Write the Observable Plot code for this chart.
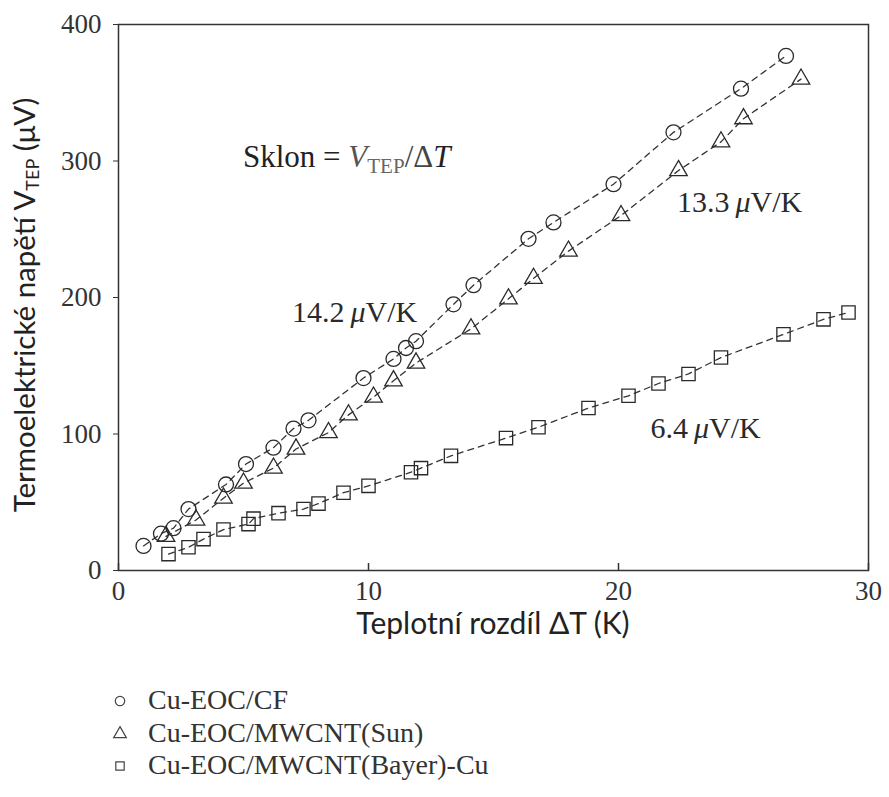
<!DOCTYPE html>
<html>
<head>
<meta charset="utf-8">
<script src="https://cdn.jsdelivr.net/npm/d3@7"></script>
<script src="https://cdn.jsdelivr.net/npm/@observablehq/plot@0.6"></script>
<style>
  body { margin: 0; background: #fff; }
  #legend { font-family: "Liberation Serif", "Times New Roman", serif; font-size: 28px; color: #333; margin-left: 110px; margin-top: 34px; }
  .row { display: flex; align-items: center; height: 32.5px; }
  .row svg { margin-right: 18px; }
</style>
</head>
<body>
<div id="chart"></div>
<div id="legend"></div>
<script>
// ---- data ----
const seriesNames = ["Cu-EOC/CF", "Cu-EOC/MWCNT(Sun)", "Cu-EOC/MWCNT(Bayer)-Cu"];
const seriesSymbols = ["circle", "triangle", "square"];

const cfX = [1.0, 1.7, 2.2, 2.8, 4.3, 5.1, 6.2, 7.0, 7.6, 9.8, 11.0, 11.5, 11.9, 13.4, 14.2, 16.4, 17.4, 19.8, 22.2, 24.9, 26.7];
const cfY = [18, 27, 31, 45, 63, 78, 90, 104, 110, 141, 155, 163, 168, 195, 209, 243, 255, 283, 321, 353, 377];

const sunX = [1.9, 3.1, 4.2, 5.0, 6.2, 7.1, 8.4, 9.2, 10.2, 11.0, 11.9, 14.1, 15.6, 16.6, 18.0, 20.1, 22.4, 24.1, 25.0, 27.3];
const sunY = [25, 37, 53, 64, 75, 89, 101, 114, 127, 139, 152, 177, 199, 214, 234, 260, 293, 314, 331, 360];

const bayX = [2.0, 2.8, 3.4, 4.2, 5.2, 5.4, 6.4, 7.4, 8.0, 9.0, 10.0, 11.7, 12.1, 13.3, 15.5, 16.8, 18.8, 20.4, 21.6, 22.8, 24.1, 26.6, 28.2, 29.2];
const bayY = [12, 17, 23, 30, 34, 38, 42, 45, 49, 57, 62, 72, 75, 84, 97, 105, 119, 128, 137, 144, 156, 173, 184, 189];

const xTicks = [0, 10, 20, 30];
const yTicks = [0, 100, 200, 300, 400];

const xTitle = "Teplotní rozdíl ΔT (K)";
const yTitleMain = "Termoelektrické napětí V";
const yTitleSub = "TEP";
const yTitleUnit = " (μV)";

const slopeLabels = ["14.2", "13.3", "6.4"];
const slopeX = [6.96, 22.36, 21.3];
const slopeY = [182, 262, 97];
const formulaX = 5.0;
const formulaY = 295;

// ---- build table ----
const rows = [];
[[cfX, cfY], [sunX, sunY], [bayX, bayY]].forEach(([xs, ys], i) => {
  xs.forEach((x, j) => rows.push({series: seriesNames[i], x, y: ys[j]}));
});

const serif = "'Liberation Serif', 'Times New Roman', serif";
const sans = "Lato, 'Open Sans', sans-serif";
const ink = "#2a2a2a";

const plot = Plot.plot({
  width: 889,
  height: 650,
  marginLeft: 118,
  marginRight: 21,
  marginTop: 24,
  marginBottom: 80,
  x: {domain: [0, 30]},
  y: {domain: [0, 400]},
  symbol: {domain: seriesNames, range: seriesSymbols},
  style: {fontFamily: serif, background: "white"},
  marks: [
    Plot.line(rows, {x: "x", y: "y", z: "series", stroke: "#333", strokeWidth: 1.3, strokeDasharray: "6,5"}),
    Plot.dot(rows.filter(d => d.series === seriesNames[0]), {x: "x", y: "y", symbol: "series", r: 7.5, stroke: ink, fill: "none", strokeWidth: 1.3}),
    Plot.dot(rows.filter(d => d.series === seriesNames[1]), {x: "x", y: "y", symbol: "series", r: 6.5, stroke: ink, fill: "none", strokeWidth: 1.3}),
    Plot.dot(rows.filter(d => d.series === seriesNames[2]), {x: "x", y: "y", symbol: "series", r: 7.5, stroke: ink, fill: "none", strokeWidth: 1.3}),
    Plot.frame({stroke: "#333", strokeWidth: 1.5}),
    Plot.axisY(yTicks, {tickSize: 5, tickPadding: 12, fontSize: 27, fill: "#333", stroke: "#333", label: null}),
    Plot.axisX(xTicks, {tickSize: -7, fill: "none", stroke: "#333", strokeWidth: 1.5, label: null}),
    Plot.axisX(xTicks, {tickSize: 0, tickPadding: 10, fontSize: 27, fill: "#333", label: null})
  ]
});

document.getElementById("chart").appendChild(plot);

// ---- annotations and axis titles ----
const sx = plot.scale("x").apply, sy = plot.scale("y").apply;
const svg = d3.select(plot);

// formula
const f = svg.append("text")
  .attr("x", sx(formulaX)).attr("y", sy(formulaY))
  .attr("text-anchor", "start")
  .attr("font-family", serif).attr("font-size", 31).attr("fill", "#222");
f.append("tspan").text("Sklon = ");
f.append("tspan").attr("font-style", "italic").attr("fill", "#555").text("V");
f.append("tspan").attr("font-size", 21).attr("dy", 6).attr("fill", "#666").text("TEP");
f.append("tspan").attr("dy", -6).attr("fill", "#444").text("/Δ");
f.append("tspan").attr("font-style", "italic").text("T");

// slope labels
slopeLabels.forEach((s, i) => {
  const t = svg.append("text")
    .attr("x", sx(slopeX[i])).attr("y", sy(slopeY[i]))
    .attr("text-anchor", "start")
    .attr("font-family", serif).attr("font-size", 30).attr("fill", "#2a2a2a");
  t.append("tspan").text(s + "\u2009");
  t.append("tspan").attr("font-style", "italic").text("μ");
  t.append("tspan").text("V/K");
});

// x title
svg.append("text")
  .attr("x", (sx(0) + sx(30)) / 2).attr("y", 634)
  .attr("text-anchor", "middle")
  .attr("font-family", sans).attr("font-size", 30).attr("fill", "#222")
  .text(xTitle);

// y title
const yt = svg.append("text")
  .attr("transform", `translate(35, ${(sy(0) + sy(400)) / 2 + 8}) rotate(-90)`)
  .attr("text-anchor", "middle")
  .attr("font-family", sans).attr("font-size", 29.5).attr("fill", "#222");
yt.append("tspan").text(yTitleMain);
yt.append("tspan").attr("font-size", 18).attr("dy", 4).text(yTitleSub);
yt.append("tspan").attr("dy", -4).text(yTitleUnit);

// ---- legend (below the SVG) ----
const legend = d3.select("#legend");
const symPaths = seriesSymbols.map(s => ({circle: d3.symbolCircle, triangle: d3.symbolTriangle, square: d3.symbolSquare})[s]);
seriesNames.forEach((name, i) => {
  const row = legend.append("div").attr("class", "row");
  const s = row.append("svg").attr("width", 20).attr("height", 20);
  s.append("path")
    .attr("transform", "translate(10,11)")
    .attr("d", d3.symbol(symPaths[i], 70)())
    .attr("fill", "none").attr("stroke", "#444").attr("stroke-width", 1.2);
  row.append("span").text(name);
});
</script>
</body>
</html>
